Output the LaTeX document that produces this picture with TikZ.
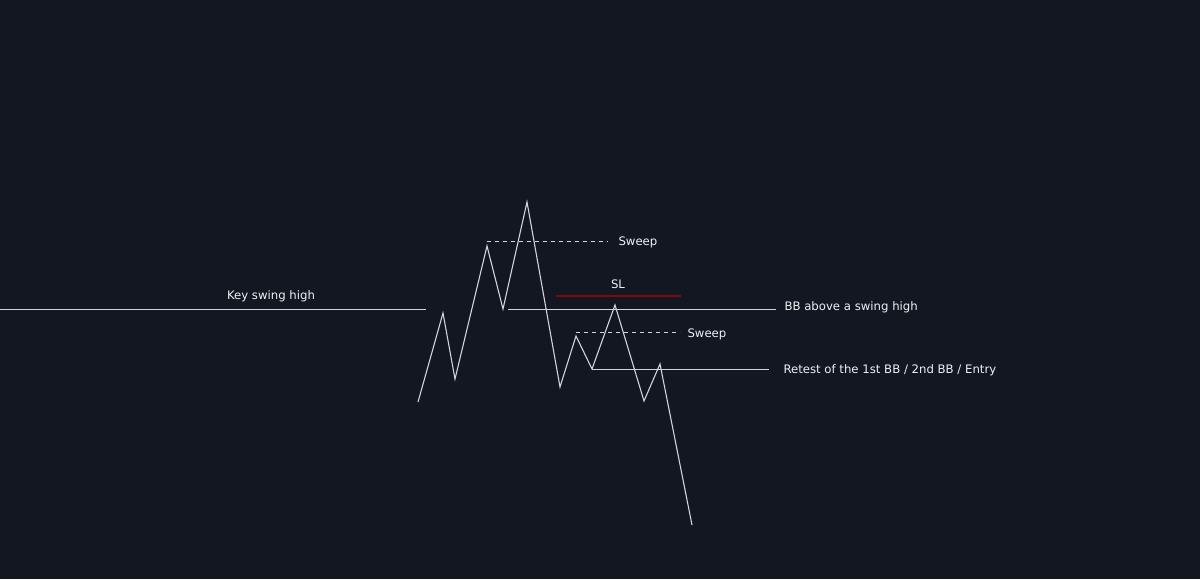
\documentclass[tikz,border=0pt]{standalone}
\usepackage{fontspec}
\setmainfont{DejaVu Sans}
\definecolor{chartbg}{HTML}{131722}
\definecolor{pricegray}{HTML}{D1D4DC}
\definecolor{labelwhite}{HTML}{EEF0F4}
\definecolor{slred}{HTML}{7E0A0E}
\tikzset{
	lbl/.style={text=labelwhite, inner sep=0pt, font=\fontsize{11.7}{14}\selectfont},
	sweepline/.style={dash pattern=on 4pt off 4pt}
}
\begin{document}
\begin{tikzpicture}[x=1pt,y=-1pt,line width=1pt,draw=pricegray]
	\fill[chartbg] (0,0) rectangle (1200,579);
	\useasboundingbox (0,0) rectangle (1200,579);
	% price path
	\coordinate (P1) at (418,402);
	\coordinate (P2) at (443,313);
	\coordinate (P3) at (455,379);
	\coordinate (P4) at (487,246);
	\coordinate (P5) at (503,309);
	\coordinate (P6) at (527,202);
	\coordinate (P7) at (560,387);
	\coordinate (P8) at (576,336);
	\coordinate (P9) at (592,369);
	\coordinate (P10) at (615,305);
	\coordinate (P11) at (644,401);
	\coordinate (P12) at (660,364);
	\coordinate (P13) at (692,525);
	\draw[line width=1.1pt] (P1) -- (P2) -- (P3) -- (P4) -- (P5) -- (P6) -- (P7) -- (P8) -- (P9) -- (P10) -- (P11) -- (P12) -- (P13);
	% key swing high
	\coordinate (K1) at (0,309);
	\coordinate (K2) at (426,309);
	\draw (K1) -- (K2);
	\node (KL) at (271,296)	[lbl]	{Key swing high};
	% first sweep
	\coordinate (S1) at (487,241);
	\coordinate (S2) at (608,241);
	\draw[sweepline] (S1) -- (S2);
	\node (SL1) at (618,242)	[lbl, anchor=west]	{Sweep};
	% stop loss
	\coordinate (R1) at (556,296);
	\coordinate (R2) at (681,296);
	\draw[slred, line width=1.5pt] (R1) -- (R2);
	\node (SLL) at (618,284)	[lbl]	{SL};
	% break above swing high
	\coordinate (B1) at (508,309);
	\coordinate (B2) at (776,309);
	\draw (B1) -- (B2);
	\node (BL) at (784,307)	[lbl, anchor=west]	{BB above a swing high};
	% second sweep
	\coordinate (T1) at (576,332);
	\coordinate (T2) at (680,332);
	\draw[sweepline] (T1) -- (T2);
	\node (SL2) at (687,334)	[lbl, anchor=west]	{Sweep};
	% retest
	\coordinate (E1) at (592,369);
	\coordinate (E2) at (769,369);
	\draw (E1) -- (E2);
	\node (EL) at (783,370)	[lbl, anchor=west]	{Retest of the 1st BB / 2nd BB / Entry};
\end{tikzpicture}
\end{document}
